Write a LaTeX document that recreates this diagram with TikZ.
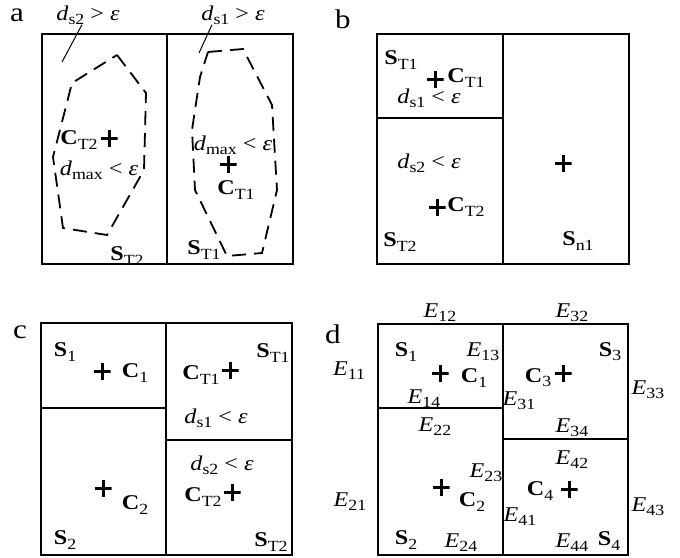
\documentclass[tikz,border=0pt]{standalone}
\usepackage{fontspec}
\setmainfont{Liberation Serif}[FakeStretch=1.15]
\newcommand\sbs[1]{\raisebox{-0.2em}{\fontsize{15.5}{16}\selectfont #1}}
\newcommand\setS[1]{\textbf{S}\sbs{#1}}
\newcommand\cenC[1]{\textbf{C}\sbs{#1}}
\newcommand\distd[1]{\textit{d}\sbs{#1}}
\newcommand\edgeE[1]{\textit{E}\sbs{#1}}
\newcommand\epsl{\textit{ε}}
\begin{document}
\begin{tikzpicture}[x=1pt, y=-1pt, font=\fontsize{21}{24}\selectfont,
  box/.style={line width=2.5pt},
  zone/.style={line width=1.8pt, dash pattern=on 14pt off 8pt},
  lbl/.style={inner sep=0pt},
  tag/.style={inner sep=0pt, anchor=base, font=\fontsize{27}{30}\selectfont},
  cross/.style={minimum size=17pt, inner sep=0pt, path picture={
    \draw[line width=3pt] (path picture bounding box.west) -- (path picture bounding box.east)
      (path picture bounding box.north) -- (path picture bounding box.south);}}]
\useasboundingbox (0,0) rectangle (680,557);
% panel a
\node[tag] (ta) at (17,21) {a};
\draw[box] (42,34) rectangle (293,264) (167,34) -- (167,264);
\draw[zone] (117,55) -- (146,93) -- (144,170) -- (107,235) -- (63,228) -- (53,157) -- (72,83) -- cycle;
\draw[zone] (208,52) -- (243,49) -- (272,105) -- (277,190) -- (262,253) -- (227,256) -- (195,190) -- (192,130) -- (200,77) -- cycle;
\node[lbl] (ds2) at (88,15) {\distd{s2} > \epsl};
\node[lbl] (ds1) at (233,15) {\distd{s1} > \epsl};
\coordinate (z2) at (62,62);
\coordinate (z1) at (199,53);
\draw[line width=1pt] ([xshift=-6pt]ds2.south) -- (z2);
\draw[line width=1pt] ([xshift=-21pt]ds1.south) -- (z1);
\node[lbl] (ct2a) at (79,140) {\cenC{T2}};
\node[cross] (pt2a) at (109,138) {};
\node[lbl] (dm2) at (99,170) {\distd{max} < \epsl};
\node[lbl] (st2a) at (127,256) {\setS{T2}};
\node[lbl] (dm1) at (233,145) {\distd{max} < \epsl};
\node[cross] (pt1a) at (228,164) {};
\node[lbl] (ct1a) at (236,190) {\cenC{T1}};
\node[lbl] (st1a) at (204,250) {\setS{T1}};
% panel b
\node[tag] (tb) at (343,28) {b};
\draw[box] (377,34) rectangle (629,264) (503,34) -- (503,264) (377,118) -- (503,118);
\node[lbl] (st1b) at (401,60) {\setS{T1}};
\node[cross] (pt1b) at (435,79) {};
\node[lbl] (ct1b) at (466,78) {\cenC{T1}};
\node[lbl] (ds1b) at (429,98) {\distd{s1} < \epsl};
\node[lbl] (ds2b) at (429,163) {\distd{s2} < \epsl};
\node[cross] (pt2b) at (437,207) {};
\node[lbl] (ct2b) at (466,207) {\cenC{T2}};
\node[lbl] (st2b) at (400,242) {\setS{T2}};
\node[cross] (pn1) at (563,163) {};
\node[lbl] (sn1) at (578,241) {\setS{n1}};
% panel c
\node[tag] (tc) at (20,338) {c};
\draw[box] (41,323) rectangle (292,555) (166,323) -- (166,555) (41,408) -- (166,408) (166,440) -- (292,440);
\node[lbl] (s1c) at (65,352) {\setS{1}};
\node[cross] (p1c) at (102,371) {};
\node[lbl] (c1c) at (135,373) {\cenC{1}};
\node[lbl] (ct1c) at (201,375) {\cenC{T1}};
\node[cross] (pt1c) at (230,370) {};
\node[lbl] (st1c) at (273,353) {\setS{T1}};
\node[lbl] (ds1c) at (216,418) {\distd{s1} < \epsl};
\node[lbl] (ds2c) at (222,465) {\distd{s2} < \epsl};
\node[lbl] (ct2c) at (203,497) {\cenC{T2}};
\node[cross] (pt2c) at (232,492) {};
\node[lbl] (st2c) at (271,542) {\setS{T2}};
\node[cross] (p2c) at (103,488) {};
\node[lbl] (c2c) at (135,505) {\cenC{2}};
\node[lbl] (s2c) at (65,540) {\setS{2}};
% panel d
\node[tag] (td) at (333,343) {d};
\draw[box] (378,324) rectangle (628,555) (503,324) -- (503,555) (378,408) -- (503,408) (503,439) -- (628,439);
\node[lbl] (e12) at (440,313) {\edgeE{12}};
\node[lbl] (e32) at (572,313) {\edgeE{32}};
\node[lbl] (e11) at (349,371) {\edgeE{11}};
\node[lbl] (s1d) at (406,352) {\setS{1}};
\node[lbl] (e13) at (483,352) {\edgeE{13}};
\node[cross] (p1d) at (440,373) {};
\node[lbl] (c1d) at (474,378) {\cenC{1}};
\node[lbl] (e14) at (424,399) {\edgeE{14}};
\node[lbl] (e31) at (519,401) {\edgeE{31}};
\node[lbl] (c3d) at (538,378) {\cenC{3}};
\node[cross] (p3d) at (563,373) {};
\node[lbl] (s3d) at (610,352) {\setS{3}};
\node[lbl] (e33) at (648,390) {\edgeE{33}};
\node[lbl] (e34) at (572,428) {\edgeE{34}};
\node[lbl] (e22) at (435,427) {\edgeE{22}};
\node[lbl] (e42) at (572,460) {\edgeE{42}};
\node[lbl] (e23) at (486,473) {\edgeE{23}};
\node[cross] (p2d) at (441,487) {};
\node[lbl] (c2d) at (472,502) {\cenC{2}};
\node[lbl] (e21) at (350,502) {\edgeE{21}};
\node[lbl] (c4d) at (540,491) {\cenC{4}};
\node[cross] (p4d) at (569,489) {};
\node[lbl] (e43) at (648,507) {\edgeE{43}};
\node[lbl] (e41) at (520,517) {\edgeE{41}};
\node[lbl] (s2d) at (406,540) {\setS{2}};
\node[lbl] (e24) at (461,543) {\edgeE{24}};
\node[lbl] (e44) at (572,543) {\edgeE{44}};
\node[lbl] (s4d) at (609,541) {\setS{4}};
\end{tikzpicture}
\end{document}
